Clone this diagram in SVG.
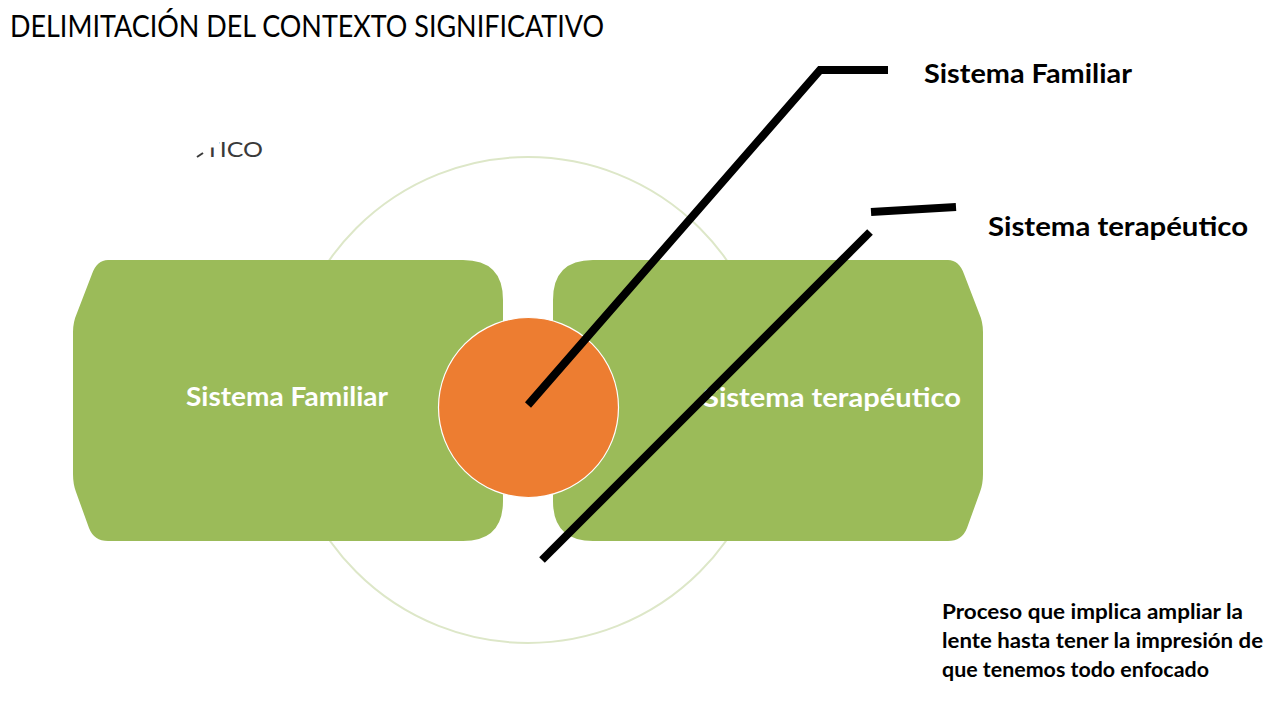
<svg xmlns="http://www.w3.org/2000/svg" width="1280" height="720" viewBox="0 0 1280 720">
<style>
  .t { font-family: Lato, "Liberation Sans", sans-serif; }
  .b { font-weight: bold; }
  .box { fill: #9BBB59; }
  .lbl { fill: #ffffff; font-size: 26px; }
  .blk { fill: #000000; }
  .ln { stroke: #000000; stroke-width: 8; fill: none; stroke-linecap: butt; stroke-linejoin: miter; }
</style>
<defs>
  <clipPath id="fragClip">
    <polygon points="219.5,132 280,132 280,166 196,166 205,157 209,147.5 219.5,147.5"/>
  </clipPath>
</defs>
<rect width="1280" height="720" fill="#ffffff"/>

<text class="t" x="10" y="37" font-size="31" fill="#000" textLength="594" lengthAdjust="spacingAndGlyphs">DELIMITACIÓN DEL CONTEXTO SIGNIFICATIVO</text>

<g id="fragment">
  <text class="t" x="205" y="157" font-size="21" fill="#3a3a3a" clip-path="url(#fragClip)" textLength="58" lengthAdjust="spacingAndGlyphs">TICO</text>
  <line x1="197" y1="157" x2="203" y2="153" stroke="#3a3a3a" stroke-width="2"/>
</g>

<g id="outer-circle">
  <circle cx="528" cy="400" r="243" fill="none" stroke="#DDE7C8" stroke-width="2"/>
</g>

<g id="box-familiar">
  <path class="box" d="M 108,260 L 463,260 Q 503,260 503,300 L 503,501 Q 503,541 463,541 L 108,541 Q 94,541 89,528 L 76,492 Q 73,484 73,474 L 73,332 Q 73,322 77,313 L 92,274 Q 97,260 108,260 Z"/>
  <text class="t b lbl" x="186" y="406" textLength="202" lengthAdjust="spacingAndGlyphs">Sistema Familiar</text>
</g>

<g id="box-terapeutico">
  <path class="box" d="M 593,260 L 948,260 Q 959,260 964,274 L 979,313 Q 983,322 983,332 L 983,474 Q 983,484 980,492 L 967,528 Q 962,541 948,541 L 593,541 Q 553,541 553,501 L 553,300 Q 553,260 593,260 Z"/>
  <text class="t b lbl" x="703" y="407" textLength="258" lengthAdjust="spacingAndGlyphs">Sistema terapéutico</text>
</g>

<g id="center-circle">
  <circle cx="528.5" cy="407.5" r="90" fill="#ED7D31" stroke="#ffffff" stroke-width="1.2"/>
</g>

<g id="connectors">
  <polyline class="ln" points="528,405 820,70 888,70"/>
  <line class="ln" x1="542" y1="560" x2="870" y2="232"/>
  <line class="ln" x1="871" y1="212" x2="956" y2="207"/>
</g>

<g id="label-familiar">
  <text class="t b blk" x="924" y="83" font-size="27" textLength="208" lengthAdjust="spacingAndGlyphs">Sistema Familiar</text>
</g>
<g id="label-terapeutico">
  <text class="t b blk" x="988" y="236" font-size="27" textLength="260" lengthAdjust="spacingAndGlyphs">Sistema terapéutico</text>
</g>

<g id="note">
  <text class="t b blk" font-size="20">
    <tspan x="942" y="619" textLength="301" lengthAdjust="spacingAndGlyphs">Proceso que implica ampliar la</tspan>
    <tspan x="942" y="648" textLength="321" lengthAdjust="spacingAndGlyphs">lente hasta tener la impresión de</tspan>
    <tspan x="942" y="677" textLength="267" lengthAdjust="spacingAndGlyphs">que tenemos todo enfocado</tspan>
  </text>
</g>
</svg>
